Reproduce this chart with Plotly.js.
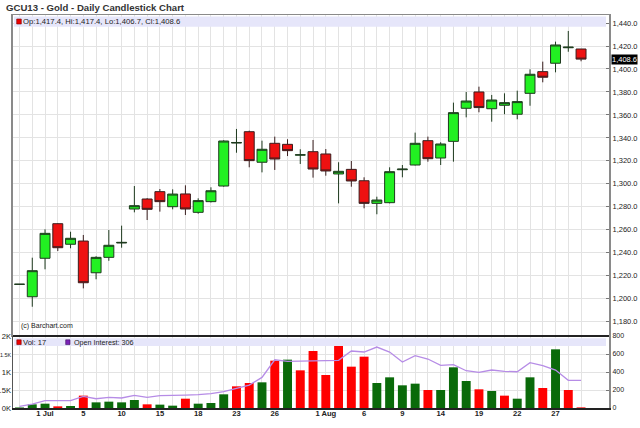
<!DOCTYPE html>
<html>
<head>
<meta charset="utf-8">
<script src="https://cdn.plot.ly/plotly-3.0.1.min.js"></script>
<style>html,body{margin:0;padding:0;background:#fff;}#chart{width:640px;height:428px;}</style>
</head>
<body>
<div id="chart"></div>
<script>
// ---- data ----
const dates = ['2013-06-27','2013-06-28','2013-07-01','2013-07-02','2013-07-03','2013-07-05','2013-07-08','2013-07-09','2013-07-10','2013-07-11','2013-07-12','2013-07-15','2013-07-16','2013-07-17','2013-07-18','2013-07-19','2013-07-22','2013-07-23','2013-07-24','2013-07-25','2013-07-26','2013-07-29','2013-07-30','2013-07-31','2013-08-01','2013-08-02','2013-08-05','2013-08-06','2013-08-07','2013-08-08','2013-08-09','2013-08-12','2013-08-13','2013-08-14','2013-08-15','2013-08-16','2013-08-19','2013-08-20','2013-08-21','2013-08-22','2013-08-23','2013-08-26','2013-08-27','2013-08-28','2013-08-29'];
const openP  = [1212.5,1201.7,1235.2,1265.3,1247.4,1250.2,1222.6,1236.0,1248.5,1278.1,1286.8,1293.2,1280.1,1291.2,1275.2,1284.5,1298.1,1335.5,1345.4,1318.8,1335.3,1334.4,1325.0,1328.0,1326.0,1308.6,1312.6,1302.7,1283.0,1283.6,1312.3,1316.4,1337.6,1322.5,1337.0,1365.8,1380.0,1365.4,1368.4,1360.6,1378.8,1397.7,1405.0,1418.5,1417.4];
const highP  = [1212.8,1235.7,1260.4,1265.6,1258.3,1255.5,1237.0,1259.8,1263.6,1298.1,1287.5,1295.5,1295.2,1298.7,1287.4,1297.0,1338.0,1347.8,1346.3,1337.6,1341.1,1338.8,1330.1,1338.2,1330.3,1318.8,1319.9,1305.7,1288.8,1314.4,1316.4,1344.6,1341.1,1336.2,1370.7,1380.0,1384.6,1377.4,1378.8,1381.1,1399.7,1406.4,1423.8,1433.1,1417.4];
const lowP   = [1212.2,1193.0,1225.6,1241.5,1243.9,1209.0,1216.9,1233.0,1244.4,1275.2,1268.5,1275.8,1277.8,1272.9,1274.0,1283.8,1297.5,1327.1,1314.4,1310.0,1312.1,1324.2,1317.3,1305.4,1307.1,1283.0,1297.5,1278.7,1273.5,1283.0,1305.7,1316.0,1319.3,1316.4,1319.3,1357.9,1362.3,1354.1,1360.6,1356.2,1368.0,1388.4,1397.1,1415.0,1406.7];
const closeP = [1212.6,1224.4,1256.9,1244.4,1252.6,1213.9,1236.0,1246.5,1249.0,1281.0,1277.8,1284.5,1291.1,1278.1,1285.4,1294.0,1337.3,1336.0,1320.2,1330.1,1321.6,1328.9,1325.3,1312.9,1311.2,1310.9,1302.5,1283.0,1285.9,1310.6,1312.8,1335.3,1321.9,1334.7,1362.0,1372.1,1366.4,1373.0,1370.7,1371.6,1395.4,1392.8,1420.9,1419.0,1408.6];
const volume = [15,102,120,46,56,343,157,176,157,222,102,93,65,259,120,139,380,602,694,713,1315,1343,1046,1583,917,1722,1148,1426,694,852,630,676,500,500,1130,750,519,472,343,259,852,556,1630,500,17];
const openInterest = [18,44,81,81,81,129,103,118,111,140,118,137,137,144,148,159,181,222,255,340,536,518,522,529,527,530,633,622,677,622,510,581,544,474,481,414,396,422,407,403,503,470,422,308,306];
const labelDates = ['2013-07-01','2013-07-05','2013-07-10','2013-07-15','2013-07-18','2013-07-23','2013-07-26','2013-08-01','2013-08-06','2013-08-09','2013-08-14','2013-08-19','2013-08-22','2013-08-27'];
const labelTexts = ['1 Jul','5','10','15','18','23','26','1 Aug','6','9','14','19','22','27'];
const priceTicks = [1180,1200,1220,1240,1260,1280,1300,1320,1340,1360,1380,1400,1420,1440];
const volTicks = [0,500,1000,1500,2000];
const volTickText = ['0K','.5K','1K','<span style="font-size:5.4px">1.5K</span>','2K'];
const oiTicks = [0,200,400,600,800];

// ---- helpers (layout only) ----
const W = 640, H = 428, L = 13, R = 609, T = 15, B = 408;
const px = x => (x - L) / (R - L);
const py = y => (B - y) / (B - T);
const fmt = v => v.toLocaleString('en-US', {minimumFractionDigits: 1, maximumFractionDigits: 1});
const n = dates.length;
const last = n - 1;

const ticktext = dates.map(d => { const i = labelDates.indexOf(d); return i >= 0 ? labelTexts[i] : ''; });
const volColors = volume.map((v, i) => (i === 0 || closeP[i] >= closeP[i - 1]) ? '#0a6a0a' : '#ff0000');

const FONT = 'Liberation Sans, Arial, sans-serif';
const GRID = '#e3e3e3';
const xr = [-0.51, 46.19];

const traces = [
  {
    type: 'candlestick', x: dates, open: openP, high: highP, low: lowP, close: closeP,
    xaxis: 'x', yaxis: 'y',
    increasing: {fillcolor: '#22f022', line: {color: '#1e3a1e', width: 1}},
    decreasing: {fillcolor: '#ee1111', line: {color: '#3a1e1e', width: 1}},
    whiskerwidth: 0, hoverinfo: 'skip', showlegend: false
  },
  {
    type: 'bar', x: dates, y: volume, xaxis: 'x2', yaxis: 'y2',
    marker: {color: volColors, line: {width: 0}}, hoverinfo: 'skip', showlegend: false
  },
  {
    type: 'scatter', mode: 'lines', x: dates, y: openInterest, xaxis: 'x2', yaxis: 'y3',
    line: {color: '#b68ce6', width: 1.3}, hoverinfo: 'skip', showlegend: false
  }
];

const layout = {
  width: W, height: H,
  margin: {l: L, r: W - R, t: T, b: H - B, pad: 0},
  paper_bgcolor: '#fff', plot_bgcolor: '#fff',
  font: {family: FONT, size: 8, color: '#222'},
  title: {text: 'GCU13 - Gold - Daily Candlestick Chart', x: 6 / W, xanchor: 'left', xref: 'container',
          y: 1 - 7.5 / H, yanchor: 'middle', yref: 'container',
          font: {family: FONT, size: 9.6, color: '#333', weight: 'bold'}},
  showlegend: false,
  boxgap: 0.22, boxgroupgap: 0, bargap: 0.3,
  xaxis: {type: 'category', domain: [0, 1], anchor: 'y', range: xr, tickvals: dates, ticktext: dates.map(() => ''),
          showticklabels: false, ticks: '', showgrid: true, gridcolor: GRID, gridwidth: 1,
          showline: true, linecolor: '#8a8a8a', linewidth: 1.5, mirror: true,
          rangeslider: {visible: false}, fixedrange: true, zeroline: false},
  yaxis: {domain: [py(335), 1], anchor: 'x', side: 'right', range: [1168.4, 1447],
          tickvals: priceTicks, tickformat: ',.1f', tickfont: {size: 7.5, color: '#222'},
          ticks: 'inside', ticklen: 3, tickcolor: '#777', showgrid: true, gridcolor: GRID,
          showline: true, linecolor: '#8a8a8a', linewidth: 2, mirror: true, zeroline: false, fixedrange: true},
  xaxis2: {type: 'category', domain: [0, 1], anchor: 'y2', range: xr, tickvals: dates, ticktext: ticktext,
           tickfont: {size: 7.6, color: '#222', weight: 'bold'}, tickangle: 0, ticks: '', ticklabelstandoff: -3,
           showgrid: true, gridcolor: GRID, showline: true, linecolor: '#222', linewidth: 1.5, mirror: false,
           fixedrange: true, zeroline: false},
  yaxis2: {domain: [0, py(336)], anchor: 'x2', side: 'left', range: [0, 2000],
           tickvals: volTicks, ticktext: volTickText, tickfont: {size: 7.6, color: '#222'},
           ticks: '', ticklabelstandoff: -1, showgrid: true, gridcolor: GRID,
           showline: true, linecolor: '#555', linewidth: 1.5, zeroline: false, fixedrange: true},
  yaxis3: {overlaying: 'y2', anchor: 'x2', side: 'right', range: [0, 800],
           tickvals: oiTicks, tickfont: {size: 7, color: '#222'}, ticks: 'inside', ticklen: 3, tickcolor: '#777',
           showgrid: false, showline: true, linecolor: '#8a8a8a', linewidth: 2, zeroline: false, fixedrange: true},
  shapes: [
    {type: 'rect', xref: 'paper', yref: 'paper', x0: px(14), x1: px(606), y0: py(26.7), y1: py(16.5),
     fillcolor: '#e6e6fa', line: {width: 0}},
    {type: 'rect', xref: 'paper', yref: 'paper', x0: px(16.7), x1: px(21.3), y0: py(24), y1: py(19),
     fillcolor: '#ee0000', line: {color: '#700', width: 0.6}},
    {type: 'rect', xref: 'paper', yref: 'paper', x0: px(14), x1: px(606), y0: py(346), y1: py(338.3),
     fillcolor: '#e6e6fa', line: {width: 0}},
    {type: 'rect', xref: 'paper', yref: 'paper', x0: px(16.8), x1: px(21.2), y0: py(344.6), y1: py(339.8),
     fillcolor: '#ee0000', line: {color: '#700', width: 0.6}},
    {type: 'rect', xref: 'paper', yref: 'paper', x0: px(65.7), x1: px(70), y0: py(344.6), y1: py(339.8),
     fillcolor: '#7a22b8', line: {color: '#401060', width: 0.6}},
    {type: 'line', xref: 'paper', yref: 'paper', x0: 0, x1: 1, y0: py(336), y1: py(336),
     line: {color: '#222', width: 2}}
  ],
  annotations: [
    {xref: 'paper', yref: 'paper', x: px(23), y: py(21.2), xanchor: 'left', yanchor: 'middle', xshift: -2, showarrow: false,
     text: 'Op:' + fmt(openP[last]) + ', Hi:' + fmt(highP[last]) + ', Lo:' + fmt(lowP[last]) + ', Cl:' + fmt(closeP[last]),
     font: {size: 7.7, color: '#222'}},
    {xref: 'paper', yref: 'paper', x: px(21), y: py(326), xanchor: 'left', yanchor: 'middle', xshift: -2, showarrow: false,
     text: '(c) Barchart.com', font: {size: 7, color: '#222'}},
    {xref: 'paper', yref: 'paper', x: px(23.3), y: py(342.3), xanchor: 'left', yanchor: 'middle', xshift: -2, showarrow: false,
     text: 'Vol: ' + volume[last], font: {size: 7.6, color: '#222'}},
    {xref: 'paper', yref: 'paper', x: px(73.8), y: py(342.3), xanchor: 'left', yanchor: 'middle', xshift: -2, showarrow: false,
     text: 'Open Interest: ' + openInterest[last], font: {size: 7.2, color: '#222'}},
    {xref: 'paper', yref: 'y', x: 1, y: closeP[last], xanchor: 'left', yanchor: 'middle', xshift: 2, showarrow: false,
     text: fmt(closeP[last]), bgcolor: '#000', borderpad: 0, font: {size: 7.5, color: '#fff'}}
  ]
};

Plotly.newPlot('chart', traces, layout, {staticPlot: true, displayModeBar: false});
</script>
</body>
</html>
